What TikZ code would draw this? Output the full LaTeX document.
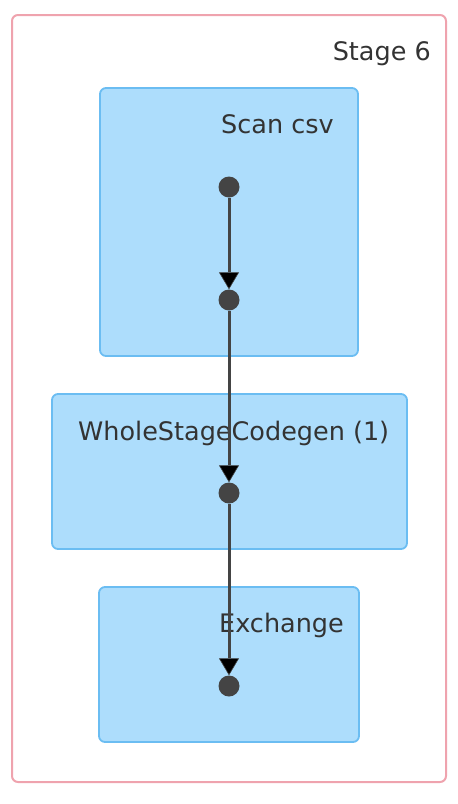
\documentclass[tikz,border=0pt]{standalone}
\usepackage{fontspec}
\setmainfont{DejaVu Sans}
\usetikzlibrary{arrows.meta}
\definecolor{stagepink}{HTML}{EFA3AE}
\definecolor{boxfill}{HTML}{ADDDFC}
\definecolor{boxline}{HTML}{6BBDF2}
\definecolor{dotgray}{HTML}{444444}
\definecolor{txt}{HTML}{333333}
\tikzset{
  stagebox/.style={draw=stagepink, line width=2pt, rounded corners=6pt},
  opbox/.style={draw=boxline, fill=boxfill, line width=1.8pt, rounded corners=6pt},
  lbl/.style={text=txt, font=\fontsize{25.5}{30}\selectfont, inner sep=0pt},
  dotnode/.style={circle, fill=dotgray, minimum size=21pt, inner sep=0pt},
  flow/.style={draw=dotgray, line width=3pt, -{Triangle[width=20pt 0 0,length=17pt 0 0,fill=black,line width=0.6pt]}}
}
\begin{document}
\begin{tikzpicture}[x=1pt,y=-1pt]
\useasboundingbox (0,0) rectangle (458,804);
\draw[stagebox] (12,15) rectangle (446,782);
\node[lbl, anchor=base east] (stagelbl) at (431,60) {Stage 6};
\draw[opbox] (100,88) rectangle (358,356);
\draw[opbox] (52,394) rectangle (407,549);
\draw[opbox] (99,587) rectangle (359,742);
\node[lbl, anchor=base west] (scanlbl) at (221,133) {Scan csv};
\node[lbl, anchor=base west] (wsclbl) at (78,440) {WholeStageCodegen (1)};
\node[lbl, anchor=base west] (exlbl) at (219,632) {Exchange};
\node[dotnode] (d1) at (229,187) {};
\node[dotnode] (d2) at (229,300) {};
\node[dotnode] (d3) at (229,493) {};
\node[dotnode] (d4) at (229,686) {};
\draw[flow] (d1) -- (d2);
\draw[flow] (d2) -- (d3);
\draw[flow] (d3) -- (d4);
\end{tikzpicture}
\end{document}
